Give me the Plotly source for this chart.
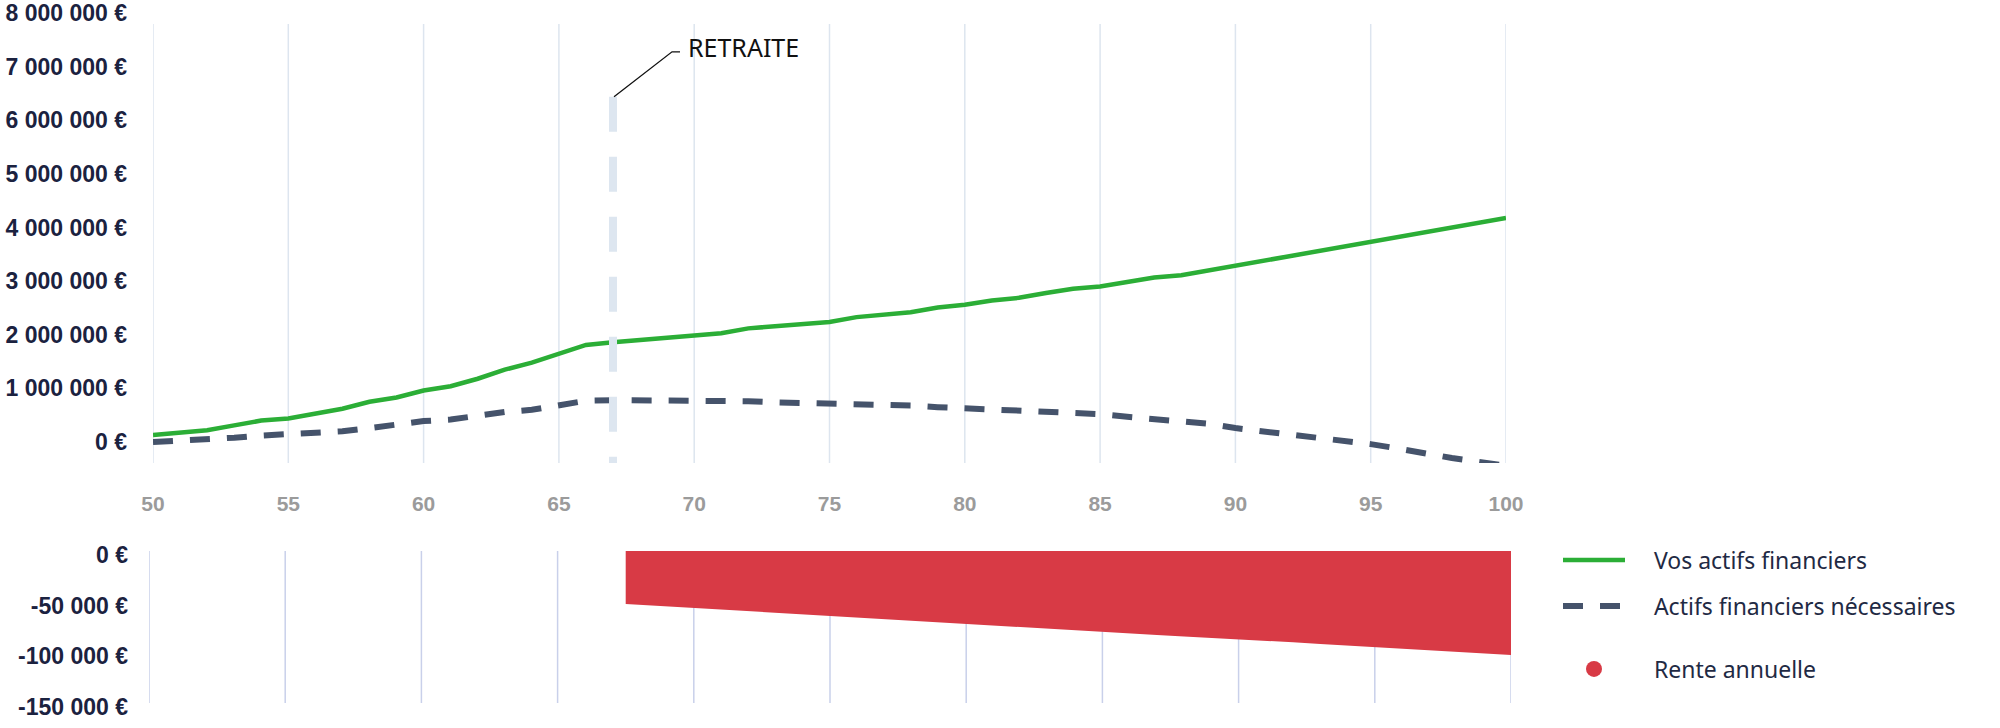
import plotly.graph_objects as go

# ---------------- data ----------------
AGES = list(range(50, 101))
# "Vos actifs financiers" (k€)
ACTIFS_K = [130, 170, 220, 310, 400, 440, 530, 620, 750, 830,
            960, 1040, 1180, 1350, 1480, 1650, 1810, 1860, 1900, 1950,
            1990, 2030, 2120, 2160, 2200, 2240, 2330, 2370, 2420, 2510,
            2560, 2640, 2690, 2780, 2860, 2900, 2990, 3070, 3110, 3200,
            3290, 3380, 3470, 3560, 3640, 3730, 3820, 3910, 4020, 4100,
            4180]
# "Actifs financiers nécessaires" (k€)
NECESSAIRES_K = [0, 20, 40, 80, 120, 140, 160, 200, 260, 320,
                 390, 420, 490, 560, 600, 680, 770, 780, 780, 780,
                 780, 780, 760, 740, 730, 730, 720, 700, 680, 650,
                 630, 620, 600, 570, 540, 520, 470, 430, 390, 340,
                 260, 200, 160, 90, 30, -40, -120, -220, -300, -370,
                 -440]
# "Rente annuelle" (k€, drawn below zero)
RENTE_AGES = [67.5] + list(range(68, 101))
RENTE_K = [52.3, 53.1, 54.7, 56.2, 57.8, 59.4, 61.0, 62.6, 64.2, 65.8,
           67.3, 68.9, 70.5, 72.1, 73.7, 75.3, 76.8, 78.4, 80.0, 81.5,
           82.9, 84.3, 85.6, 87.0, 88.6, 90.1, 91.7, 93.3, 94.8, 96.4,
           98.0, 99.6, 101.2, 102.7]

ACTIFS = [v * 1000 for v in ACTIFS_K]
NECESSAIRES = [v * 1000 for v in NECESSAIRES_K]
RENTE = [-v * 1000 for v in RENTE_K]

X_TICKS = [50, 55, 60, 65, 70, 75, 80, 85, 90, 95, 100]
X_LABELS = [str(v) for v in X_TICKS]
Y_TOP_TICKS = [0, 1000000, 2000000, 3000000, 4000000, 5000000, 6000000, 7000000, 8000000]
Y_TOP_LABELS = ["0 €", "1 000 000 €", "2 000 000 €", "3 000 000 €", "4 000 000 €",
                "5 000 000 €", "6 000 000 €", "7 000 000 €", "8 000 000 €"]
Y_BOT_TICKS = [0, -50000, -100000, -150000]
Y_BOT_LABELS = ["0 €", "-50 000 €", "-100 000 €", "-150 000 €"]

RETIREMENT_AGE = 67
RETIREMENT_MARK_TOP = 6440000
RETRAITE_TEXT = "RETRAITE"
NAMES = ["Vos actifs financiers", "Actifs financiers nécessaires", "Rente annuelle"]
PAD = "\u00a0" * 4

# ---------------- styles / layout ----------------
GREEN = "#2bae36"
SLATE = "#45536b"
RED = "#d83a45"
NAVY = "#1b2240"
GREY = "#9b9b9b"
W, H = 2000, 728


def xd(px):
    return px / W


def yd(px):
    return (H - px) / H


TOP_Y_RANGE = [-392000, 8060000]
GRID_TOP_VALUE = 7800000
BOT_Y_RANGE = [-150000, 0]

tick_font_y = dict(family="Liberation Sans, Arial, sans-serif", size=23, color=NAVY, weight="bold")
tick_font_x = dict(family="Liberation Sans, Arial, sans-serif", size=21, color=GREY, weight="bold")
legend_font = dict(family="Noto Sans, sans-serif", size=23, color="#1f2a44")

fig = go.Figure()

fig.add_trace(go.Scatter(x=AGES, y=ACTIFS, mode="lines", name=PAD + NAMES[0],
                         line=dict(color=GREEN, width=4.5), legend="legend",
                         hoverinfo="skip"))
fig.add_trace(go.Scatter(x=AGES, y=NECESSAIRES, mode="lines", name=PAD + NAMES[1],
                         line=dict(color=SLATE, width=6, dash="20px,17px"), legend="legend2",
                         hoverinfo="skip"))
fig.add_trace(go.Scatter(x=RENTE_AGES, y=RENTE, mode="lines", fill="tozeroy",
                         fillcolor=RED, line=dict(width=0, color=RED), name=NAMES[2],
                         xaxis="x2", yaxis="y2", showlegend=False, hoverinfo="skip"))
fig.add_trace(go.Scatter(x=[None], y=[None], mode="markers", name=PAD + NAMES[2],
                         marker=dict(color=RED, size=20), xaxis="x2", yaxis="y2",
                         legend="legend3"))

shapes = []
for t in X_TICKS:
    shapes.append(dict(type="line", xref="x", yref="y", x0=t, x1=t,
                       y0=TOP_Y_RANGE[0], y1=GRID_TOP_VALUE,
                       line=dict(color="#dde5ef", width=1.5), layer="below"))
    shapes.append(dict(type="line", xref="x2", yref="y2 domain", x0=t, x1=t,
                       y0=0, y1=1, line=dict(color="#c9d0ea", width=1.5), layer="below"))

shapes.append(dict(type="line", xref="x", yref="y", x0=RETIREMENT_AGE, x1=RETIREMENT_AGE,
                   y0=RETIREMENT_MARK_TOP, y1=TOP_Y_RANGE[0],
                   line=dict(color="#dde6f0", width=8, dash="35px,25px"), layer="above"))
shapes.append(dict(type="path", xref="x", yref="y", xsizemode="pixel", ysizemode="pixel",
                   xanchor=RETIREMENT_AGE, yanchor=RETIREMENT_MARK_TOP,
                   path="M 1 0 L 59 45 L 67 45",
                   line=dict(color="#111111", width=1.3)))

fig.add_annotation(x=RETIREMENT_AGE, y=RETIREMENT_MARK_TOP, xref="x", yref="y",
                   text=RETRAITE_TEXT, showarrow=False, xanchor="left", yanchor="middle",
                   xshift=73, yshift=50,
                   font=dict(family="Noto Sans, sans-serif", size=25, color="#111111"))

axis_common = dict(showgrid=False, zeroline=False, showline=False, ticks="", automargin=False)
legend_common = dict(xanchor="left", yanchor="middle", font=legend_font, itemwidth=62,
                     bgcolor="rgba(0,0,0,0)")

fig.update_layout(
    width=W, height=H,
    margin=dict(l=0, r=0, t=0, b=0, autoexpand=False),
    paper_bgcolor="white", plot_bgcolor="white",
    shapes=shapes,
    xaxis=dict(domain=[xd(153), xd(1506)], range=[50, 100], tickvals=X_TICKS, ticktext=X_LABELS,
               tickfont=tick_font_x, ticklabelstandoff=26, anchor="y", **axis_common),
    yaxis=dict(domain=[yd(463), yd(10)], range=TOP_Y_RANGE,
               tickvals=Y_TOP_TICKS, ticktext=Y_TOP_LABELS,
               tickfont=tick_font_y, ticklabelstandoff=25, anchor="x", **axis_common),
    xaxis2=dict(domain=[xd(149), xd(1511)], range=[50, 100], tickvals=X_TICKS,
                showticklabels=False, anchor="y2", **axis_common),
    yaxis2=dict(domain=[yd(703), yd(551)], range=BOT_Y_RANGE,
                tickvals=Y_BOT_TICKS, ticktext=Y_BOT_LABELS,
                tickfont=tick_font_y, ticklabelstandoff=20, ticklabelshift=4,
                anchor="x2", **axis_common),
    legend=dict(x=xd(1558), y=yd(560), **legend_common),
    legend2=dict(x=xd(1558), y=yd(606), **legend_common),
    legend3=dict(x=xd(1558), y=yd(669), **legend_common),
    showlegend=True,
)

# the page body has no margin, so the figure fills the browser window exactly
fig.write_html("out.html", config={"displayModeBar": False},
               post_script="document.body.style.margin='0px';")
